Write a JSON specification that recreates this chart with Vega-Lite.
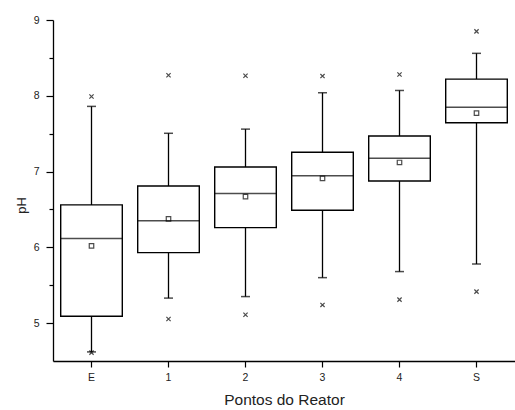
{
  "$schema": "https://vega.github.io/schema/vega-lite/v6.json",
  "width": 462,
  "height": 341,
  "autosize": "none",
  "padding": {"left": 53, "top": 20, "right": 0, "bottom": 49},
  "background": "white",
  "data": {
    "values": [
      {"ponto": "E", "min": 4.61, "wlo": 4.62, "q1": 5.09, "med": 6.115, "mean": 6.02, "q3": 6.56, "whi": 7.86, "max": 7.99},
      {"ponto": "1", "min": 5.055, "wlo": 5.33, "q1": 5.93, "med": 6.35, "mean": 6.375, "q3": 6.81, "whi": 7.505, "max": 8.27},
      {"ponto": "2", "min": 5.11, "wlo": 5.35, "q1": 6.26, "med": 6.71, "mean": 6.67, "q3": 7.06, "whi": 7.56, "max": 8.265},
      {"ponto": "3", "min": 5.24, "wlo": 5.6, "q1": 6.49, "med": 6.946, "mean": 6.91, "q3": 7.255, "whi": 8.04, "max": 8.26},
      {"ponto": "4", "min": 5.31, "wlo": 5.68, "q1": 6.876, "med": 7.175, "mean": 7.12, "q3": 7.47, "whi": 8.07, "max": 8.28},
      {"ponto": "S", "min": 5.415, "wlo": 5.78, "q1": 7.645, "med": 7.85, "mean": 7.77, "q3": 8.22, "whi": 8.56, "max": 8.85}
    ]
  },
  "encoding": {
    "x": {
      "field": "ponto",
      "type": "nominal",
      "sort": ["E", "1", "2", "3", "4", "S"],
      "scale": {"paddingInner": 0, "paddingOuter": 0},
      "axis": {
        "title": "Pontos do Reator",
        "labelAngle": 0,
        "tickSize": 6,
        "labelPadding": 5,
        "labelFontSize": 10.5,
        "titleFontSize": 15.5,
        "titlePadding": 10
      }
    }
  },
  "layer": [
    {
      "mark": {"type": "rule", "color": "black", "strokeWidth": 1.3},
      "encoding": {
        "y": {
          "field": "wlo",
          "type": "quantitative",
          "scale": {"domain": [4.5, 9], "nice": false, "zero": false},
          "axis": {
            "title": "pH",
            "values": [5, 5.5, 6, 6.5, 7, 7.5, 8, 8.5, 9],
            "tickSize": {"condition": {"test": "datum.value % 1 === 0", "value": 7}, "value": 4},
            "labelExpr": "datum.value % 1 === 0 ? format(datum.value, 'd') : ''",
            "labelPadding": 7,
            "labelFontSize": 10.5,
            "titleFontSize": 13,
            "titlePadding": 5,
            "titleY": 185
          }
        },
        "y2": {"field": "whi"}
      }
    },
    {
      "mark": {"type": "bar", "fill": "white", "stroke": "black", "strokeWidth": 1.4, "width": {"band": 0.8}},
      "encoding": {
        "y": {"field": "q1", "type": "quantitative"},
        "y2": {"field": "q3"}
      }
    },
    {
      "mark": {"type": "tick", "color": "black", "size": 62, "thickness": 1.5},
      "encoding": {"y": {"field": "med", "type": "quantitative"}}
    },
    {
      "mark": {"type": "tick", "color": "black", "size": 9, "thickness": 1.5},
      "encoding": {"y": {"field": "whi", "type": "quantitative"}}
    },
    {
      "mark": {"type": "tick", "color": "black", "size": 9, "thickness": 1.5},
      "encoding": {"y": {"field": "wlo", "type": "quantitative"}}
    },
    {
      "mark": {"type": "point", "shape": "square", "filled": false, "color": "black", "size": 20, "strokeWidth": 1.2},
      "encoding": {"y": {"field": "mean", "type": "quantitative"}}
    },
    {
      "mark": {"type": "point", "shape": "M-1,-1L1,1M-1,1L1,-1", "filled": false, "color": "black", "size": 18, "strokeWidth": 1.2},
      "encoding": {"y": {"field": "min", "type": "quantitative"}}
    },
    {
      "mark": {"type": "point", "shape": "M-1,-1L1,1M-1,1L1,-1", "filled": false, "color": "black", "size": 18, "strokeWidth": 1.2},
      "encoding": {"y": {"field": "max", "type": "quantitative"}}
    }
  ],
  "config": {
    "view": {"stroke": null},
    "axis": {
      "grid": false,
      "domainColor": "black",
      "domainWidth": 1.3,
      "tickColor": "black",
      "tickWidth": 1.2,
      "labelColor": "#222",
      "titleColor": "#222",
      "labelFont": "Liberation Sans",
      "titleFont": "Liberation Sans",
      "titleFontWeight": "normal"
    }
  }
}
